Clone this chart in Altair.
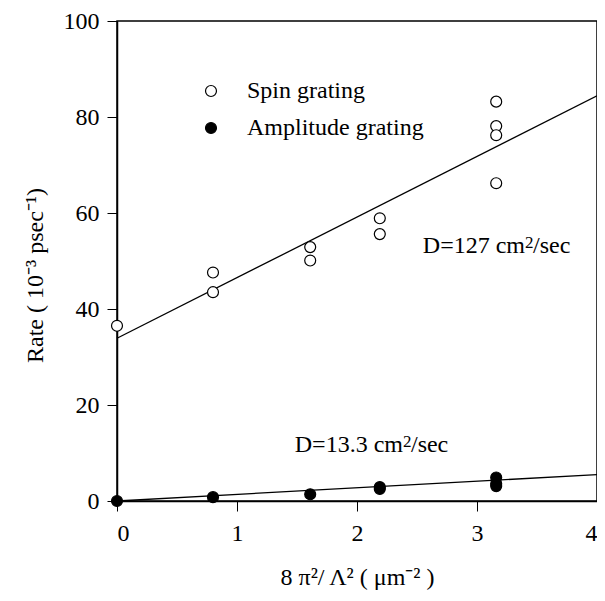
import altair as alt
import pandas as pd

# ---- data ----
spin_x = [0.0, 0.80, 0.80, 1.61, 1.61, 2.19, 2.19, 3.16, 3.16, 3.16, 3.16]
spin_y = [36.5, 47.6, 43.5, 52.9, 50.1, 58.9, 55.6, 83.2, 78.1, 76.2, 66.2]
amp_x = [0.0, 0.80, 1.61, 2.19, 2.19, 3.16, 3.16, 3.16]
amp_y = [0.0, 0.8, 1.4, 2.9, 2.5, 4.9, 3.6, 3.1]
fit_x = [0.0, 4.0]
spin_fit = [33.9, 84.4]
amp_fit = [0.0, 5.5]
series_names = ["Spin grating", "Amplitude grating"]
note_main = ["D=127 cm", "D=13.3 cm"]
note_sup = ["2", "2"]
note_tail = ["/sec", "/sec"]
note_x = [3.40, 2.383]
note_y = [51.7, 10.27]

FONT = "Liberation Serif"
FS = 24

pts = pd.DataFrame(
    {"x": spin_x + amp_x,
     "y": spin_y + amp_y,
     "series": [series_names[0]] * len(spin_x) + [series_names[1]] * len(amp_x)}
)
fits = pd.DataFrame(
    {"x": fit_x + fit_x,
     "y": spin_fit + amp_fit,
     "series": [series_names[0]] * 2 + [series_names[1]] * 2}
)
ann = pd.DataFrame({"x": note_x, "y": note_y, "m": note_main,
                    "s": note_sup, "t": note_tail})

xs = alt.Scale(domain=[0, 4], nice=False, zero=False)
ys = alt.Scale(domain=[0, 100], nice=False)

common = dict(grid=False, tickSize=10,
              labelFont=FONT, labelFontSize=FS, titleFont=FONT, titleFontSize=FS,
              titleFontWeight="normal", labelColor="black", titleColor="black",
              domainColor="black", tickColor="black", domainWidth=1.5, tickWidth=1)
xax = alt.Axis(values=[0, 1, 2, 3, 4], format="d", labelPadding=10,
               titlePadding=20, **common)
yax = alt.Axis(values=[0, 20, 40, 60, 80, 100], labelPadding=8,
               titleX=-82, titleY=254, titleAngle=-90, titleAlign="center",
               titleBaseline="middle", **common)

lines = alt.Chart(fits).mark_line(color="black", strokeWidth=1.3).encode(
    x=alt.X("x:Q", scale=xs, axis=xax, title="8 \u03c0\u00b2/ \u039b\u00b2 ( \u03bcm\u207b\u00b2 )"),
    y=alt.Y("y:Q", scale=ys, axis=yax, title="Rate ( 10\u207b\u00b3 psec\u207b\u00b9)"),
    detail="series:N",
)

points = alt.Chart(pts).mark_point(filled=True, size=120, stroke="black",
                                   strokeWidth=1.2, opacity=1).encode(
    x="x:Q",
    y="y:Q",
    fill=alt.Fill("series:N",
                  scale=alt.Scale(domain=series_names, range=["white", "black"]),
                  legend=alt.Legend(orient="none", legendX=82, legendY=58,
                                    title=None, padding=0,
                                    labelFont=FONT, labelFontSize=FS,
                                    labelColor="black", labelOffset=24,
                                    labelLimit=400,
                                    symbolType="circle", symbolSize=120,
                                    symbolStrokeColor="black",
                                    symbolStrokeWidth=1.2, rowPadding=13)),
)

base_ann = alt.Chart(ann)
t_main = base_ann.mark_text(align="right", baseline="alphabetic", font=FONT,
                            fontSize=FS, color="black").encode(
    x="x:Q", y="y:Q", text="m:N")
t_sup = base_ann.mark_text(align="left", baseline="alphabetic", font=FONT,
                           fontSize=17, color="black", dy=-5).encode(
    x="x:Q", y="y:Q", text="s:N")
t_tail = base_ann.mark_text(align="left", baseline="alphabetic", font=FONT,
                            fontSize=FS, color="black", dx=8).encode(
    x="x:Q", y="y:Q", text="t:N")

chart = alt.layer(lines, points, t_main, t_sup, t_tail).properties(
    width=480, height=480,
    autosize=alt.AutoSizeParams(type="none"),
    padding={"left": 109, "top": 13, "right": 0, "bottom": 92},
).configure_view(stroke="black", strokeWidth=1.5)

chart.save("out.html", embed_options={"renderer": "svg", "actions": False})
